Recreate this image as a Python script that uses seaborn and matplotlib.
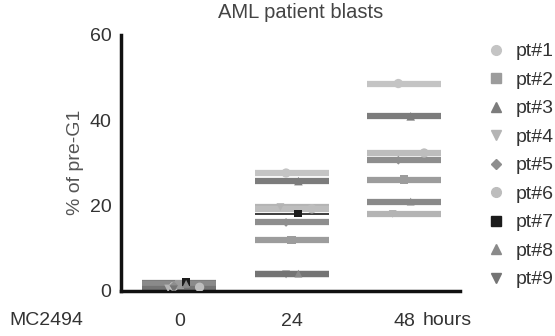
import numpy as np
import pandas as pd
import matplotlib
matplotlib.use("Agg")
import matplotlib.pyplot as plt
import seaborn as sns

# === data ===
times = ["0", "24", "48"]
patients = ["pt#1", "pt#2", "pt#3", "pt#4", "pt#5", "pt#6", "pt#7", "pt#8", "pt#9"]
pre_g1_0h = [1.0, 1.5, 1.8, 0.5, 1.2, 0.8, 2.0, 1.6, 0.3]
pre_g1_24h = [27.6, 11.9, 25.7, 19.6, 16.0, 19.2, 18.1, 4.0, 3.8]
pre_g1_48h = [48.6, 26.0, 40.9, 18.0, 30.6, 32.3, np.nan, 20.9, np.nan]

# === style ===
colors = ["#c4c4c4", "#9c9c9c", "#7c7c7c", "#b4b4b4", "#8e8e8e",
          "#bdbdbd", "#1c1c1c", "#8a8a8a", "#747474"]
markers = ["o", "s", "^", "v", "D", "o", "s", "^", "v"]
msizes = [45, 40, 38, 32, 20, 45, 32, 32, 32]
jitter = [-0.05, 0.0, 0.06, -0.1, -0.05, 0.18, 0.06, 0.06, -0.05]
line_w = [4.5, 4.5, 4.5, 4.5, 4.5, 4.5, 1.2, 4.5, 4.5]
half = 0.33
FS = 14

df = pd.DataFrame({
    "patient": patients * 3,
    "time": np.repeat(times, len(patients)),
    "value": pre_g1_0h + pre_g1_24h + pre_g1_48h,
})
df["pos"] = df["time"].map({t: i for i, t in enumerate(times)})
df["xj"] = df["pos"] + np.tile(jitter, len(times))
df = df.dropna()

sns.set_style("white")
plt.rcParams["font.family"] = ["Liberation Sans", "DejaVu Sans"]

fig = plt.figure(figsize=(5.55, 3.36), dpi=100)
ax = fig.add_axes([0.218, 0.135, 0.611, 0.761])

# thick horizontal bar per patient and time point
for _, r in df.iterrows():
    i = patients.index(r["patient"])
    ax.hlines(r["value"], r["pos"] - half, r["pos"] + half,
              color=colors[i], lw=line_w[i], zorder=2)

sns.scatterplot(data=df, x="xj", y="value", hue="patient", style="patient",
                size="patient", sizes=dict(zip(patients, msizes)),
                palette=dict(zip(patients, colors)), markers=dict(zip(patients, markers)),
                hue_order=patients, style_order=patients, size_order=patients,
                linewidth=0, ax=ax, zorder=3, legend=False)

ax.set_xlim(-0.52, 2.5)
ax.set_ylim(0, 60)
ax.set_yticks([0, 20, 40, 60])
ax.set_xticks(range(len(times)))
ax.set_xticklabels(times)
ax.set_xlabel("")
ax.set_ylabel("% of pre-G1", fontsize=FS, color="#555555", labelpad=4)
ax.tick_params(axis="both", labelsize=FS, labelcolor="#333333", length=5,
               width=2.2, color="#111111", pad=2)
ax.tick_params(axis="x", pad=11)
sns.despine(ax=ax)
for s in ["left", "bottom"]:
    ax.spines[s].set_linewidth(2.5)
    ax.spines[s].set_color("#111111")

ax.text(-0.11, -0.135, "MC2494", transform=ax.transAxes, fontsize=FS,
        color="#333333", ha="right", va="baseline")
ax.text(2.17, -0.135, "hours", transform=ax.get_xaxis_transform(), fontsize=FS,
        color="#333333", ha="left", va="baseline")
fig.text(0.542, 0.962, "AML patient blasts", fontsize=14.5, color="#444444",
         ha="center", va="center")

# legend on the right
handles = [plt.Line2D([], [], marker=markers[i], color=colors[i], linestyle="",
                      markersize=7 if markers[i] != "D" else 5)
           for i in range(len(patients))]
leg = ax.legend(handles, patients, loc="upper left", bbox_to_anchor=(1.06, 1.0),
                frameon=False, fontsize=FS, labelspacing=0.56, handlelength=0.8,
                handletextpad=0.6, borderaxespad=0)
for t in leg.get_texts():
    t.set_color("#333333")

fig.savefig("out.png", dpi=100)
